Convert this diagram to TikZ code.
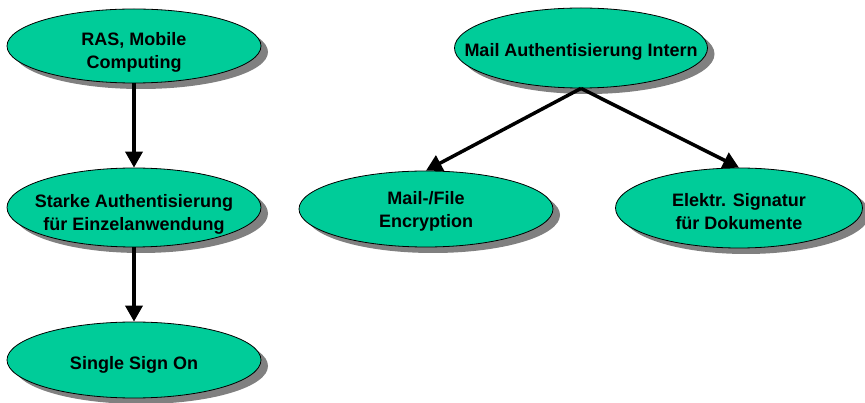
\documentclass[tikz,border=0pt]{standalone}
\usepackage{fontspec}
\setmainfont{Liberation Sans}
\usetikzlibrary{shapes.geometric,arrows.meta,shadows}
\definecolor{ellfill}{RGB}{0,204,153}
\tikzset{
  ell/.style={ellipse, draw=black, line width=0.8pt, fill=ellfill, inner sep=0pt,
    drop shadow={shadow xshift=7pt, shadow yshift=-6pt, opacity=1, fill=gray}},
  lbl/.style={inner sep=0pt, align=center, font=\fontsize{18}{23}\selectfont\bfseries},
  conn/.style={line width=3.5pt, -{Triangle[length=16pt,width=17pt]}}
}
\begin{document}
\begin{tikzpicture}[x=1pt,y=-1pt]
\useasboundingbox (0,0) rectangle (865,403);
\node[ell, minimum width=254pt, minimum height=74pt] (ras) at (134,46) {};
\node[ell, minimum width=254pt, minimum height=79pt] (starke) at (134,207.5) {};
\node[ell, minimum width=254pt, minimum height=76pt] (sso) at (134,360) {};
\node[ell, minimum width=253pt, minimum height=80pt] (mail) at (581,48) {};
\node[ell, minimum width=254pt, minimum height=76pt] (file) at (426,209) {};
\node[ell, minimum width=247pt, minimum height=80pt] (sig) at (739,208) {};
\node[lbl] (ras-t) at ([yshift=-6pt]ras.center) {RAS, Mobile\\Computing};
\node[lbl] (starke-t) at ([yshift=-6.5pt]starke.center) {Starke Authentisierung\\f\"ur Einzelanwendung};
\node[lbl] (sso-t) at ([yshift=-5pt]sso.center) {Single Sign On};
\node[lbl] (mail-t) at ([yshift=-3.5pt]mail.center) {Mail Authentisierung Intern};
\node[lbl] (file-t) at ([yshift=-2pt]file.center) {Mail-/File\\Encryption};
\node[lbl] (sig-t) at ([yshift=-3.5pt]sig.center) {Elektr. Signatur\\f\"ur Dokumente};
\draw[conn] (ras.south) -- (starke.north);
\draw[conn] (starke.south) -- (sso.north);
\draw[conn] (mail.south) -- (file.north);
\draw[conn] (mail.south) -- (sig.north);
\end{tikzpicture}
\end{document}
